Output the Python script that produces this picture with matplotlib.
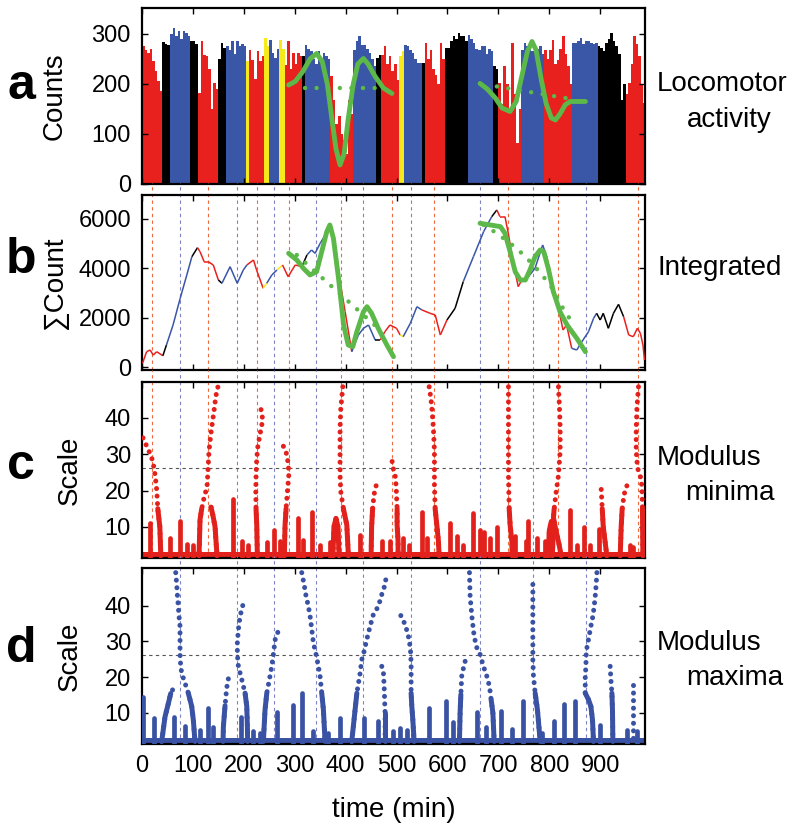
import numpy as np
import matplotlib
matplotlib.use('Agg')
import matplotlib.pyplot as plt
from matplotlib.collections import LineCollection

plt.rcParams['font.family'] = ['Liberation Sans', 'DejaVu Sans']

# ---------------- data ----------------
# behavioural state segments (start minute) and their colours
state_starts = [0, 41, 53, 96, 108, 151, 165, 205, 208, 238, 248, 269, 279, 314, 322, 369,
                413, 462, 472, 507, 513, 550, 553, 595, 641, 688, 698, 743, 792, 843, 896, 951]
state_names = ['red', 'black', 'blue', 'black', 'red', 'black', 'blue', 'yellow', 'red', 'yellow',
               'blue', 'yellow', 'red', 'black', 'blue', 'red', 'blue', 'black', 'red', 'yellow',
               'blue', 'black', 'red', 'black', 'blue', 'black', 'red', 'blue', 'red', 'blue',
               'black', 'red']
palette = {'red': '#E8211E', 'black': '#000000', 'blue': '#3A56A6', 'yellow': '#F7EA1C'}

# locomotor counts, 5-minute bins starting at 0
bin_width = 5
counts = [275, 268, 262, 270, 245, 225, 205, 185, 283, 280,
          278, 300, 311, 295, 305, 290, 305, 301, 295, 285,
          285, 280, 181, 285, 258, 255, 230, 150, 201, 190,
          250, 281, 271, 275, 268, 285, 260, 285, 275, 280,
          275, 245, 268, 248, 210, 265, 245, 255, 291, 275,
          288, 261, 251, 270, 288, 270, 238, 285, 230, 261,
          240, 261, 255, 255, 278, 270, 265, 250, 240, 265,
          248, 261, 255, 250, 215, 168, 120, 135, 100, 88,
          60, 168, 140, 268, 285, 295, 278, 278, 270, 261,
          250, 235, 251, 258, 258, 275, 240, 255, 225, 240,
          208, 255, 265, 278, 275, 268, 261, 250, 241, 241,
          241, 281, 250, 268, 230, 218, 200, 281, 250, 271,
          271, 285, 295, 290, 301, 295, 295, 285, 298, 290,
          281, 270, 268, 275, 275, 260, 270, 265, 235, 230,
          201, 160, 235, 200, 141, 281, 180, 81, 150, 268,
          281, 275, 281, 265, 261, 270, 275, 260, 268, 250,
          268, 288, 240, 248, 270, 295, 260, 235, 200, 281,
          281, 285, 291, 280, 285, 285, 281, 280, 281, 275,
          271, 265, 281, 290, 301, 285, 275, 260, 168, 200,
          180, 201, 240, 295, 280, 255, 200, 161]

# integrated (cumulative, detrended) counts
integ_t = [1, 9, 16, 22, 29, 41, 48, 61, 75, 88, 98, 109, 114, 122, 130, 140, 150, 157, 173,
           187, 199, 206, 219, 225, 238, 245, 255, 265, 276, 287, 301, 314, 324, 333, 340,
           350, 360, 369, 379, 389, 399, 412, 425, 435, 445, 458, 468, 477, 487, 500, 507,
           513, 527, 540, 550, 566, 576, 586, 599, 615, 631, 651, 671, 687, 697, 703, 713,
           720, 730, 739, 746, 759, 772, 787, 795, 808, 818, 827, 834, 844, 854, 864, 877,
           887, 893, 900, 906, 916, 926, 936, 946, 956, 965, 973, 979, 984, 987]
integ_v = [150, 620, 690, 486, 620, 458, 892, 1703, 2785, 3730, 4472, 4837, 4675, 4270, 4270,
           4135, 3527, 3393, 4067, 3393, 3932, 4135, 4338, 3932, 3190, 3393, 3730, 3932, 4135,
           3660, 4135, 4067, 4540, 4743, 4608, 5014, 5351, 5550, 5014, 3460, 2243, 620, 1297,
           1569, 1703, 1095, 1095, 1431, 1703, 1569, 1297, 1230, 1770, 2445, 2311, 2177, 2108,
           1297, 1905, 2380, 3460, 4472, 5486, 6094, 6365, 6094, 6094, 5351, 4135, 3257, 3527,
           3660, 4000, 4946, 4472, 3190, 2380, 1500, 1703, 758, 690, 1026, 1431, 1974, 2177,
           1905, 2177, 1569, 2177, 2540, 2040, 1297, 1230, 1569, 1366, 892, 284]

# green wavelet fits, panel a
wav_a1_t = [288, 301, 316, 330, 343, 354, 364, 373, 381, 389, 397, 405, 415, 424, 435, 444, 458, 474, 491]
wav_a1_v = [198, 205, 225, 250, 261, 245, 200, 130, 70, 38, 60, 130, 200, 240, 251, 240, 215, 192, 181]
trend_a1_t = [320, 478]
trend_a1_v = [191, 191]
wav_a2_t = [664, 678, 694, 707, 723, 735, 747, 757, 766, 774, 784, 794, 804, 812, 821, 831, 841, 871]
wav_a2_v = [201, 190, 172, 152, 145, 165, 220, 265, 285, 268, 210, 160, 132, 128, 140, 158, 165, 165]
trend_a2_t = [697, 837]
trend_a2_v = [195, 171]
# green wavelet fits, panel b
wav_b1_t = [288, 304, 317, 330, 343, 353, 363, 369, 376, 386, 396, 405, 414, 422, 435, 442, 451, 464, 481, 494]
wav_b1_v = [4608, 4338, 4000, 3730, 3865, 4675, 5486, 5757, 5217, 3596, 1703, 892, 824, 1431, 2243,
            2445, 2177, 1569, 892, 419]
trend_b1_t = [304, 464]
trend_b1_v = [4540, 1569]
wav_b2_t = [664, 684, 704, 713, 723, 733, 743, 753, 762, 772, 782, 789, 798, 808, 821, 835, 854, 871]
wav_b2_v = [5825, 5757, 5689, 5419, 4675, 3865, 3527, 3527, 3932, 4472, 4743, 4675, 4000, 3053,
            2243, 1703, 1163, 620]
trend_b2_t = [671, 697, 736, 769, 802, 825, 848]
trend_b2_v = [5757, 5419, 4810, 4135, 3325, 2445, 1703]

# extrema positions (minutes)
minima_times = [20, 130, 226, 289, 391, 491, 574, 719, 817, 975]
maxima_times = [75, 187, 259, 342, 434, 529, 664, 768, 872]
scale_threshold = 26.2

# modulus-minima ridges: (minute, scale)
minima_ridges = [
    [(2, 34.5), (10, 32), (18, 29.5), (22, 27.5), (26, 24), (29, 20), (31, 15), (35, 10), (37, 2)],
    [(149, 48.5), (145, 46), (141.5, 42), (139, 39.5), (135.6, 36), (131.7, 31), (129.7, 26),
     (127.7, 21), (121.8, 18), (117.3, 15), (114, 12), (112, 2)],
    [(135.6, 15.4), (139.5, 13), (143.5, 10), (145.4, 6), (147.4, 2)],
    [(233.8, 42.3), (237.2, 39.5), (233.8, 37), (230.5, 34.5), (227.4, 32), (225.4, 28.9),
     (224, 24.2), (223.5, 19.6), (224, 15), (225.4, 10.5), (226.6, 2)],
    [(277.7, 32.2), (284.3, 30), (287.5, 27), (288.3, 24.2), (285.5, 19.6), (283, 15), (281, 10.5), (279.6, 2)],
    [(394.4, 48.6), (392.4, 45.5), (390.5, 42.8), (389, 37), (389, 24.2), (390.5, 19.6),
     (395.6, 15), (402.3, 10.5), (405.4, 2)],
    [(375, 2), (377, 10), (381, 12.3), (385, 10), (387, 2)],
    [(459.8, 21.3), (455.9, 19), (453, 15), (451, 10), (450, 2)],
    [(491.3, 28), (493.3, 26.2), (497.2, 24.2), (499.1, 21.3), (501.1, 15), (501.1, 10.5), (503, 5.9), (503, 2)],
    [(564, 48.6), (567.3, 45.5), (569.3, 42.8), (572.4, 37), (574.4, 31), (574.4, 21.3), (575.8, 15),
     (579.1, 10.5), (582.3, 5.9), (583.6, 2)],
    [(719.8, 48.6), (719.8, 24.2), (721.2, 15), (723.1, 10.5), (726.5, 5.9), (727, 2)],
    [(818, 48.6), (820, 42.8), (821.4, 37), (821.4, 31), (818, 24.2), (813.5, 19.6), (809.6, 15),
     (808.2, 12.5), (811.5, 10), (819.4, 5), (823.3, 2)],
    [(798, 2), (800, 9), (804, 11.5), (808, 9), (806, 2)],
    [(902, 20.3), (904, 15), (906, 10), (913, 2)],
    [(952.4, 21.3), (947.1, 19), (943.2, 15), (941.2, 10), (939.3, 2)],
    [(975.2, 48.6), (972.1, 42.8), (970.7, 37), (970.7, 31), (973.3, 26.2), (978.6, 24.2),
     (981.9, 21.3), (983, 15), (983.8, 2)],
]
minima_spike_t = [15, 55, 75, 88, 101, 179, 196, 209, 245, 259, 271, 307, 317, 333, 350, 369,
                  428, 471, 487, 512, 525, 550, 560, 605, 618, 631, 650, 664, 671, 684, 697,
                  733, 754, 759, 776, 792, 840, 854, 868, 880, 897, 959, 965]
minima_spike_h = [11, 6.8, 11.5, 5.3, 4.9, 17.8, 6, 5, 5.9, 9.1, 6, 12.3, 6.5, 14, 4.9, 5.9,
                  7.8, 6, 6, 7, 5, 14, 7, 11, 7.5, 5, 13.7, 9, 8.5, 7, 10,
                  7.5, 6, 11.5, 7, 6, 14.5, 5, 10, 5, 9.5, 5, 4.5]

# modulus-maxima ridges: (minute, scale)
maxima_ridges = [
    [(66.2, 49.2), (68.2, 45.9), (69.4, 43.1), (71.3, 39.8), (72.7, 37), (74.7, 34.2), (74.7, 30.5),
     (74.7, 26.3), (76, 23), (78, 21.1), (84.5, 18.3), (91, 15.5), (97.7, 11.8), (100.8, 8), (104.1, 2)],
    [(38.7, 2), (45.2, 8.9), (51.7, 12.6), (56.4, 15.4), (60.3, 16.5)],
    [(169.6, 19.5), (166.4, 17), (163.1, 12), (159.8, 6), (159.2, 2)],
    [(197.9, 40), (192.6, 37), (189.3, 33.3), (187.3, 29.6), (187.3, 26.3), (189.3, 23), (196, 19.3),
     (202.5, 15.5), (205.8, 11.8), (207, 6), (207.5, 2)],
    [(266.7, 32.5), (261.4, 30.4), (258, 26.3), (254.9, 23), (250.2, 19.3), (245.1, 15.5),
     (241.7, 10.9), (238.4, 2)],
    [(313.8, 49.2), (318.4, 45.9), (322.3, 42.6), (326.8, 39.8), (330.2, 37), (333.5, 33.3),
     (336.6, 29.6), (341.9, 26.3), (346.5, 23), (349.8, 20.2), (353.1, 15.5), (356.3, 10.9), (359.6, 2)],
    [(412, 2), (422, 15.5), (428.4, 21.1), (431.7, 24.9), (434.8, 26.3), (441.5, 30.5), (448, 34.2),
     (454.4, 37.5), (464.3, 39.8), (471, 43.1), (477.5, 45.9), (480.8, 49.2)],
    [(508.4, 37.2), (516.8, 34.7), (521.3, 32.5), (524.7, 30.5), (526.6, 28.4), (528, 26.3),
     (528.6, 23), (528.6, 15.5), (530, 11.8), (532, 8), (534.5, 2)],
    [(471, 23), (474.3, 21), (475.6, 17.5), (477.5, 10), (477.5, 2)],
    [(643.2, 49.2), (644.5, 42.6), (647.9, 37), (652.4, 31.4), (657.7, 28.2), (664.2, 26.3),
     (670.7, 23), (677.4, 20.2), (682.5, 17.4), (685.8, 13.7), (689.2, 10), (691.7, 2)],
    [(634.7, 24.4), (628.2, 20.7), (626.3, 15.1), (624.9, 10.4), (623.5, 2)],
    [(767.7, 45.9), (767.7, 24.9), (768.9, 20.2), (772.3, 15.5), (776.8, 10.8), (782.1, 2)],
    [(893.5, 49.2), (892.1, 45.9), (890.2, 42.6), (888.2, 39.8), (885.6, 37), (881.7, 34.2),
     (877, 30.5), (873.9, 28.2), (872.5, 26.3), (871.9, 23), (870.6, 20.2), (870.6, 15.5),
     (877, 13.7), (881.7, 11.8), (884.9, 8), (886.8, 2)],
    [(919.6, 23), (921, 19.3), (923, 15.5), (924.1, 10.8), (924.9, 2)],
    [(963.5, 17.9), (963.5, 2)],
]
maxima_spike_t = [1.3, 23.6, 62, 84.5, 114, 130.3, 140, 194, 218.7, 231.8, 266, 297, 315, 336.6,
                  366, 389, 435.6, 464.3, 493.8, 507, 520, 564.7, 598, 611.7, 658, 676, 704.9,
                  726.5, 749.3, 785.5, 808.3, 828, 851, 900, 952.4, 972]
maxima_spike_h = [14.3, 8.5, 8.9, 6.2, 5.3, 11.4, 6, 8.9, 4.9, 4.5, 10.3, 12.3, 15.5, 5,
                  4.5, 8.6, 8.7, 7.8, 4.9, 5.8, 5.3, 11.4, 13.2, 7.4, 10.3, 6, 10.6,
                  5.6, 13.2, 4.3, 7.6, 12.5, 13.3, 6.6, 5.3, 4.8]
base_band = (1.0, 3.0)

# ---------------- helpers ----------------
def state_color(t):
    idx = np.searchsorted(state_starts, t, side='right') - 1
    return palette[state_names[max(idx, 0)]]

RED_DOT = '#E3211C'
BLUE_DOT = '#3A52A3'
GREEN = '#5CB848'
RED_DASH = '#EE6A3E'
BLUE_DASH = '#7C82C2'

fig = plt.figure(figsize=(8, 8.32), dpi=100)
L, W = 0.1775, 0.62875
axa = fig.add_axes([L, 0.7789, W, 0.2115])
axb = fig.add_axes([L, 0.5553, W, 0.2103])
axc = fig.add_axes([L, 0.3293, W, 0.2115])
axd = fig.add_axes([L, 0.1058, W, 0.2115])
XMAX = 988

for ax in (axa, axb, axc, axd):
    ax.set_xlim(0, XMAX)
    for sp in ax.spines.values():
        sp.set_linewidth(1.6)
    ax.tick_params(direction='in', length=4, width=1, top=True, right=True,
                   labelsize=17, pad=8)
    ax.set_xticks(np.arange(0, 1000, 100))
    if ax is not axd:
        ax.tick_params(labelbottom=False)

# panel a: bars
bar_t = np.arange(len(counts)) * bin_width
bar_colors = [state_color(t + bin_width / 2) for t in bar_t]
axa.bar(bar_t, counts, width=bin_width, align='edge', color=bar_colors, linewidth=0)
axa.plot(wav_a1_t, wav_a1_v, color=GREEN, lw=3.5, solid_capstyle='round', zorder=5)
axa.plot(wav_a2_t, wav_a2_v, color=GREEN, lw=3.5, solid_capstyle='round', zorder=5)
for tt, vv in ((trend_a1_t, trend_a1_v), (trend_a2_t, trend_a2_v)):
    axa.plot(tt, vv, color=GREEN, lw=3.2, linestyle=(0, (0.01, 2.6)), dash_capstyle='round', zorder=5)
axa.set_ylim(0, 352)
axa.set_yticks([0, 100, 200, 300])

# panel b: integrated line coloured by state
pts = np.column_stack([integ_t, integ_v])
segs = np.stack([pts[:-1], pts[1:]], axis=1)
seg_cols = [state_color((a + b) / 2) for a, b in zip(integ_t[:-1], integ_t[1:])]
axb.add_collection(LineCollection(segs, colors=seg_cols, linewidths=1.1, zorder=3))
axb.plot(wav_b1_t, wav_b1_v, color=GREEN, lw=3.5, solid_capstyle='round', zorder=5)
axb.plot(wav_b2_t, wav_b2_v, color=GREEN, lw=3.5, solid_capstyle='round', zorder=5)
for tt, vv in ((trend_b1_t, trend_b1_v), (trend_b2_t, trend_b2_v)):
    axb.plot(tt, vv, color=GREEN, lw=3.2, linestyle=(0, (0.01, 2.6)), dash_capstyle='round', zorder=5)
axb.set_ylim(-120, 6970)
axb.set_yticks([0, 2000, 4000, 6000])

# vertical extrema lines
for ax, show_red in ((axb, True), (axc, True), (axd, False)):
    if show_red:
        for t in minima_times:
            ax.axvline(t, ymin=0, ymax=1.07, color=RED_DASH, lw=0.8, linestyle=(0, (3, 3)),
                       clip_on=False, zorder=1)
    for t in maxima_times:
        ax.axvline(t, ymin=0, ymax=1.07, color=BLUE_DASH, lw=0.8, linestyle=(0, (3, 3)),
                   clip_on=False, zorder=1)

def draw_scalogram(ax, ridges, spike_t, spike_h, color):
    ax.axhspan(base_band[0], base_band[1], color=color, lw=0, zorder=2)
    for r in ridges:
        t = [p[0] for p in r]
        s = [p[1] for p in r]
        ax.plot(t, s, color=color, lw=3.6, linestyle=(0, (0.01, 1.5)),
                dash_capstyle='round', zorder=3)
        low = [p for p in r if p[1] <= 16]
        if len(low) > 1:
            ax.plot([p[0] for p in low], [p[1] for p in low], color=color, lw=3.6,
                    solid_capstyle='round', zorder=3)
    for t, h in zip(spike_t, spike_h):
        ax.plot([t, t], [base_band[0], h], color=color, lw=3.4, solid_capstyle='round', zorder=3)
    ax.axhline(scale_threshold, color='#555555', lw=0.8, linestyle=(0, (3, 3)), zorder=1)
    ax.set_yticks([10, 20, 30, 40])

draw_scalogram(axc, minima_ridges, minima_spike_t, minima_spike_h, RED_DOT)
axc.set_ylim(1.4, 49.9)
draw_scalogram(axd, maxima_ridges, maxima_spike_t, maxima_spike_h, BLUE_DOT)
axd.set_ylim(1.3, 50.5)

# labels
axa.set_ylabel('Counts', fontsize=20)
axb.set_ylabel('\u2211Count', fontsize=20)
axc.set_ylabel('Scale', fontsize=20)
axd.set_ylabel('Scale', fontsize=20)
axa.yaxis.set_label_coords(-0.147, 0.5)
axb.yaxis.set_label_coords(-0.147, 0.5)
axc.yaxis.set_label_coords(-0.118, 0.5)
axd.yaxis.set_label_coords(-0.118, 0.5)
axd.set_xlabel('time (min)', fontsize=20, labelpad=14)

for letter, yc in (('a', 86), ('b', 260), ('c', 466), ('d', 649)):
    fig.text(21 / 800, 1 - yc / 832, letter, fontsize=36, fontweight='bold',
             ha='center', va='center')

def rtext(x, y, s):
    fig.text(x / 800, 1 - y / 832, s, fontsize=20, ha='left', va='center')

rtext(657, 84, 'Locomotor')
rtext(687, 120, 'activity')
rtext(657, 268, 'Integrated')
rtext(657, 458, 'Modulus')
rtext(685, 493, 'minima')
rtext(657, 643, 'Modulus')
rtext(686, 678, 'maxima')

fig.savefig('out.png', dpi=100)
